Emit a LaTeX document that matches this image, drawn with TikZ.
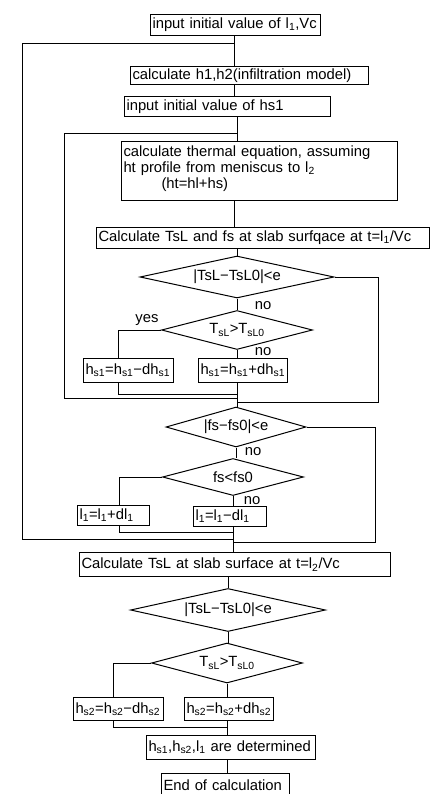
\documentclass[tikz,border=0pt]{standalone}
\usepackage{fontspec}
\setmainfont{Liberation Sans}
\usetikzlibrary{shapes.geometric}

\newcommand{\flowfont}{\fontsize{14.8}{16}\selectfont}
\newcommand{\ix}[1]{\textsubscript{#1}}

\begin{document}
\begin{tikzpicture}[x=1pt, y=-1pt, line width=1pt,
  every node/.style={font=\flowfont},
  box/.style={draw, anchor=north west, inner xsep=2pt, inner ysep=0pt, align=left},
  test/.style={draw, diamond, aspect=4, inner sep=0pt}]

\useasboundingbox (0,0) rectangle (438,794);

\node[box, text width=166pt, minimum height=21pt] (init) at (150,14) {input initial value of l\ix{1},Vc};

\node[box, text width=234pt, minimum height=18pt] (infil) at (130,66) {calculate h1,h2(infiltration model)};

\node[box, text width=202pt, minimum height=20pt] (hsinit) at (124,96) {input initial value of hs1};

\node[box, text width=272pt, minimum height=59pt, text height=10.6pt, text depth=40pt] (therm) at (121,141) {calculate thermal equation, assuming\\ht profile from meniscus to l\ix{2}\\\hspace*{38pt}(ht=hl+hs)};

\node[box, text width=329pt, minimum height=21pt] (tsl1) at (96,227) {Calculate TsL and fs at slab surfqace at t=l\ix{1}/Vc};

\node[test, minimum width=194pt, minimum height=42pt] (d1) at (237,277) {|TsL−TsL0|<e};

\node[test, minimum width=151pt, minimum height=39pt] (d2) at (237,330) {T\ix{sL}>T\ix{sL0}};

\node[box, text width=86pt, minimum height=24pt] (hs1m) at (83,358) {h\ix{s1}=h\ix{s1}−dh\ix{s1}};

\node[box, text width=85pt, minimum height=24pt] (hs1p) at (198,358) {h\ix{s1}=h\ix{s1}+dh\ix{s1}};

\node[test, minimum width=140pt, minimum height=40pt] (d3) at (236,427) {|fs−fs0|<e};

\node[test, minimum width=141pt, minimum height=37pt] (d4) at (233,477) {fs<fs0};

\node[box, text width=68pt, minimum height=20pt] (l1p) at (77,505) {l\ix{1}=l\ix{1}+dl\ix{1}};

\node[box, text width=69pt, minimum height=20pt] (l1m) at (193,506) {l\ix{1}=l\ix{1}−dl\ix{1}};

\node[box, text width=307pt, minimum height=24pt] (tsl2) at (79,552) {Calculate TsL at slab surface at t=l\ix{2}/Vc};

\node[test, minimum width=195pt, minimum height=43pt] (d5) at (228,610) {|TsL−TsL0|<e};

\node[test, minimum width=151pt, minimum height=40pt] (d6) at (227,663) {T\ix{sL}>T\ix{sL0}};

\node[box, text width=86pt, minimum height=23pt] (hs2m) at (73,697) {h\ix{s2}=h\ix{s2}−dh\ix{s2}};

\node[box, text width=85pt, minimum height=23pt] (hs2p) at (184,697) {h\ix{s2}=h\ix{s2}+dh\ix{s2}};

\node[box, text width=165pt, minimum height=24pt] (final) at (146,735) {h\ix{s1},h\ix{s2},l\ix{1} are determined};

\node[box, text width=124pt, minimum height=24pt] (end) at (161,773) {End of calculation};

\node (no1) at (263,306) {no};

\node (yes1) at (147,320) {yes};

\node (no2) at (263,352) {no};

\node (no3) at (253,452) {no};

\node (no4) at (252,501) {no};

\coordinate (j1) at (234,44);

\coordinate (j2) at (237,134);

\coordinate (o1) at (22,539);

\coordinate (o2) at (64,398);

\coordinate (r1) at (378,402);

\coordinate (r2) at (375,542);

\coordinate (b1) at (118,394);

\coordinate (b2) at (119,532);

\coordinate (b3) at (113,727);

\draw (init.south -| j1) -- (infil.north -| j1);

\draw (infil.south -| j1) -- (hsinit.north -| j1);

\draw (hsinit.south -| j2) -- (therm.north -| j2);

\draw (therm.south -| j1) -- (tsl1.north -| j1);

\draw (tsl1.south -| d1.north) -- (d1.north);

\draw (d1.south) -- (d2.north);

\draw (d2.west) -| (hs1m.north -| b1);

\draw (d2.south) -- (hs1p.north -| d2.south);

\draw (hs1m.south -| b1) -- (b1) -- (b1 -| d2.south);

\draw (hs1p.south -| d2.south) -- (d3.north -| d2.south);

\draw (j2) -| (o2) -- (o2 -| d2.south);

\draw (d1.east) -| (r1) -- (r1 -| d2.south);

\draw (d3.south) -- (d3.south |- d4.north);

\draw (d4.west) -| (l1p.north -| b2);

\draw (d4.south) -- (l1m.north -| d4.south);

\draw (l1p.south -| b2) -- (b2) -- (b2 -| d4.south);

\draw (l1m.south -| d4.south) -- (tsl2.north -| d4.south);

\draw (j1) -| (o1) -- (o1 -| d4.south);

\draw (d3.east) -| (r2) -- (r2 -| d4.south);

\draw (tsl2.south -| d5.north) -- (d5.north);

\draw (d5.south) -- (d5.south |- d6.north);

\draw (d6.west) -| (hs2m.north -| b3);

\draw (d6.south) -- (hs2p.north -| d6.south);

\draw (hs2m.south -| b3) -- (b3) -- (b3 -| d6.south);

\draw (hs2p.south -| d6.south) -- (final.north -| d6.south);

\draw (final.south -| d6.south) -- (end.north -| d6.south);

\end{tikzpicture}
\end{document}
